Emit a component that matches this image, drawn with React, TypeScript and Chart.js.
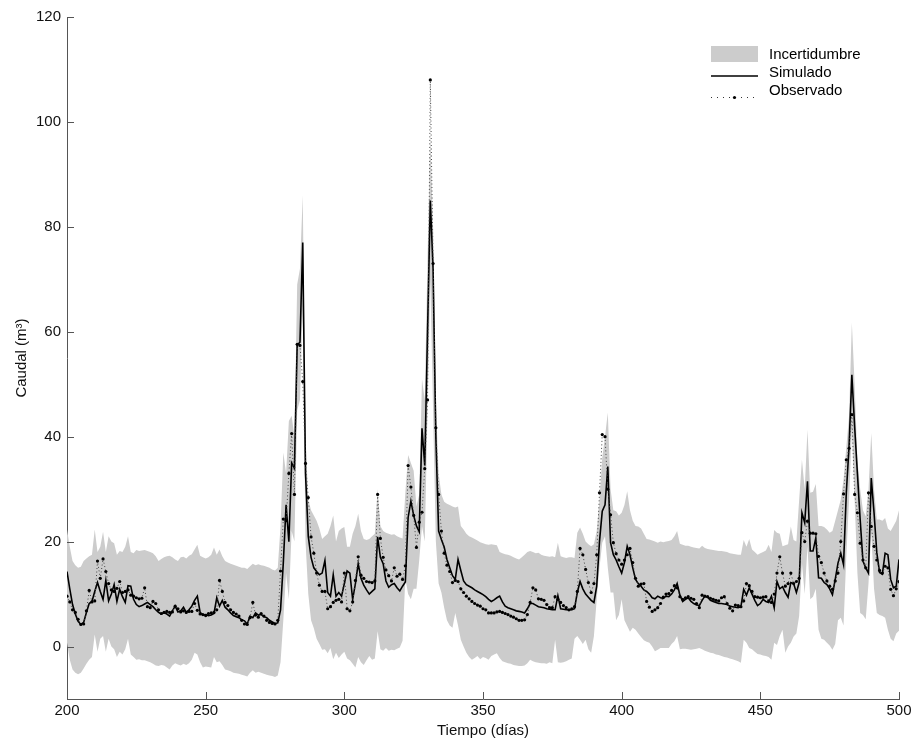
import { useEffect, useRef } from "react";
import { Chart, registerables } from "chart.js";

Chart.register(...registerables);

const START_DAY = 200;
const X_TICKS = [200, 250, 300, 350, 400, 450, 500];
const Y_TICKS = [0, 20, 40, 60, 80, 100, 120];

const simulado = [
  14.3, 11, 8, 6.2, 4.8, 4.2, 4.6, 6.5, 8.2, 8.6,
  10.5, 12.2, 10.5, 9, 12.6, 8.7, 10, 11.8, 8.6, 10.9,
  9.5, 8.4, 11.6, 11.5, 9, 8, 7.6, 7.8, 8.1, 8.4,
  8, 7.6, 7, 6.5, 6.2, 6.5, 6.2, 5.8, 6.8, 7.7,
  6.6, 6.8, 7.5, 6.5, 7, 7.7, 8.8, 9.6, 6.5, 6,
  6.1, 5.9, 6, 6.3, 9.3, 7.7, 8.8, 7.5, 7, 6.4,
  5.9, 5.7, 5.5, 5.1, 4.9, 4.3, 5.8, 5.5, 6.4, 6,
  6.1, 5.7, 5.5, 5, 4.7, 4.4, 4.5, 7, 16, 27,
  20, 35, 34, 57.5, 58, 77, 33, 21, 17, 15,
  14.3, 13.7, 14, 16.4, 10.3, 9.6, 13.7, 9.6, 10.3, 9.6,
  12, 14.4, 14, 9, 12, 15.8, 13, 11.7, 10.8, 10,
  10.5, 11, 20.9, 17, 15.8, 12.5, 11.3, 11.8, 12, 11.2,
  10.6, 11.5, 12.3, 24.6, 27.7, 25, 23, 21.9, 41.6, 34.5,
  60, 85, 72, 40, 22, 20.4, 19, 16.6, 15, 13.5,
  12.8, 16.6, 14.5, 12.5, 11.8, 11.5, 11.2, 10.8, 10.5, 10.2,
  9.9, 9.5, 9, 8.6, 8.9, 9.3, 9.6, 8.5, 7.7, 7.4,
  7.2, 7, 6.8, 6.7, 6.6, 6.4, 7.2, 8.2, 8.2, 7.9,
  7.6, 7.5, 7.4, 7.2, 7.1, 7, 7, 9.7, 7.2, 7.1,
  7, 7, 7, 7.2, 10.3, 12.4, 11, 10, 9.4, 8.8,
  8.4, 11.5, 20, 25.8, 27, 34.3, 19.8, 17.5, 16.5, 15.2,
  14, 16, 19.1, 17.5, 15, 12.8, 12, 11.5, 10.8, 10.5,
  10, 9.3, 9.1, 9.6, 9.3, 9.2, 9.6, 9.5, 10, 10.8,
  12, 9.8, 8.6, 9, 9.3, 8.6, 8.2, 7.9, 7.8, 8.8,
  9.6, 9.4, 8.8, 8.6, 8.4, 8.2, 8.2, 8.1, 8, 7.7,
  7.6, 7.5, 7.4, 7.6, 10.9, 9.8, 11.2, 10, 8.8, 7.8,
  8.2, 9, 8.6, 8.4, 9.6, 7.4, 12.4, 11, 11.4, 10.3,
  9.4, 12.2, 12, 10.3, 12.2, 25.5, 23.6, 31.5, 18.2, 18.2,
  20.7, 13.1, 13, 12.2, 11.8, 11, 9.9, 12.8, 15.9, 17.8,
  15.6, 29.3, 38.2, 51.8, 42, 33, 24.2, 16.3, 15, 14,
  32.1, 25.5, 17.9, 14.1, 13.8, 17.8, 17.5, 12.8, 11.2, 11.5,
  16.6,
];

const observado = [
  9.6, 8.5, 7, 6.5, 5.2, 4.2, 4.3, 6.8, 10.7, 8.5,
  8.7, 16.3, 13, 16.7, 14.3, 12, 10.8, 10.5, 11.1, 12.4,
  10.3, 10.5, 10.8, 9.8, 9.6, 9.3, 9.1, 9.2, 11.2, 7.6,
  7.4, 8.6, 8.2, 7, 6.3, 6.5, 6.7, 6.5, 6.6, 7.7,
  7.2, 6.6, 6.8, 6.5, 6.7, 6.7, 8.2, 6.9, 6.2, 6.1,
  5.9, 6.3, 6.4, 6.5, 7, 12.6, 10.5, 8.4, 7.8, 7,
  6.5, 6.2, 5.8, 5, 4.3, 4.2, 5.5, 8.4, 6, 5.6,
  6.3, 5.8, 5, 4.6, 4.4, 4.3, 5, 14.4, 24.3, 24,
  33, 40.6, 29, 57.6, 57.4, 50.5, 34.9, 28.4, 20.9, 17.8,
  14, 11.7, 10.5, 10.5, 7.2, 7.6, 8.4, 8.8, 9, 8.5,
  14, 7.2, 6.8, 8.5, 12.6, 17.1, 13.6, 13, 12.4, 12.3,
  12.2, 12.5, 29, 20.6, 17, 14.6, 13.5, 12.5, 15, 13.4,
  13.8, 12.8, 15.4, 34.5, 30.4, 25, 18.9, 23.7, 25.6, 33.9,
  47, 108, 73, 41.7, 29, 22, 17.8, 15.5, 14.3, 12.2,
  12.6, 12.4, 11, 10.3, 9.6, 9.1, 8.6, 8.2, 7.9, 7.7,
  7.2, 7, 6.4, 6.4, 6.4, 6.6, 6.7, 6.5, 6.3, 6.1,
  5.8, 5.6, 5.3, 5, 5, 5.1, 6.1, 8.4, 11.2, 10.8,
  9.1, 9, 8.8, 8, 7.4, 7.4, 9.5, 9, 8.4, 7.8,
  7.4, 7, 7.2, 7.6, 10.5, 18.7, 17.5, 14.7, 12.2, 10.3,
  12, 17.5, 29.3, 40.4, 40, 30, 25.1, 19.8, 17.7, 16.5,
  15.7, 16.5, 17.5, 18.7, 16, 13, 11.5, 11.9, 12, 8.6,
  7.5, 6.7, 7, 7.4, 8.2, 9.4, 10, 10.1, 10.7, 11.6,
  11.2, 9.5, 9, 9.3, 9.5, 9.2, 9, 8.2, 7.4, 9.8,
  9.6, 9.5, 9.2, 9, 8.8, 8.7, 9.3, 9.5, 8.2, 7.3,
  6.8, 7.9, 7.8, 7.6, 8.7, 12, 11.6, 10.5, 9.5, 9.4,
  9.3, 9.4, 9.5, 8.7, 8.4, 10, 14, 17.1, 14, 11.5,
  12, 14, 12, 12.4, 13, 21.7, 20, 23.9, 21.6, 21.6,
  21.5, 17.2, 16, 14, 12.5, 11.5, 10.9, 12.5, 14, 20,
  29.1, 35.6, 37.8, 44.2, 29, 25.5, 19.7, 16.5, 15, 29.3,
  22.9, 19.1, 16.5, 14.5, 14, 15.3, 15, 10.9, 9.7, 11,
  12.4,
];

const bandaSuperior = [
  22.3, 19, 16.3, 15.5, 15, 15.2, 16.3, 16.8, 17.2, 17.5,
  22.3, 18, 19, 21.9, 18, 21, 20, 19.7, 17.5, 18.2,
  18, 19, 21, 18, 17.8, 18.4, 18.2, 18.3, 18.4, 18.2,
  18, 17.8, 17.2, 16.3, 16.7, 17, 17.2, 17.3, 17, 16.6,
  16.3, 17, 17.1, 16.8, 17.3, 17.6, 18.5, 19.4, 17.3, 17,
  16.8, 17, 17.5, 18.9, 17.5, 18.5, 17.2, 16.3, 16, 15.8,
  15.6, 15.4, 15.2, 15, 15, 14.8, 15.3, 15.8, 15.5, 15.7,
  15.5, 15.4, 15.2, 15, 14.7, 14.5, 15, 23, 37, 33,
  43, 44, 40, 69, 72, 86, 40, 28, 26, 25,
  24, 22.5, 20.5, 21, 21.5, 23, 25, 20, 22, 22.5,
  22.8, 19, 19, 21.5, 23, 25.3, 22, 20.5, 20.3, 20.5,
  21, 21.5, 30, 23, 22, 21.7, 21.5, 21.3, 21.4, 21,
  20.8, 20.6, 29.3, 36.5, 35, 33.5, 26.7, 29, 51, 47,
  74, 97, 80, 47, 33, 29, 27.6, 27.2, 27, 26.7,
  26.5, 26.7, 23, 22.3, 21.5, 21, 20.8, 20.5, 20.2, 19.9,
  19.7, 19.5, 19.4, 19.5, 19.4, 19.3, 18, 17.8, 17.6, 17.5,
  17.3, 17, 16.8, 16.6, 17, 17.5, 18, 18.2, 18, 17.8,
  17.9, 17.5, 17.3, 17.2, 17.1, 17.2, 17, 19.8, 17.2, 17,
  16.9, 17, 17, 16.9, 21.7, 22.7, 21.5, 20, 19.5, 19.1,
  19.5, 22, 28, 36, 40, 44.6, 30, 26, 25.8, 25,
  25.5, 27, 29.6, 26, 24, 23, 22.9, 22.5, 21.5, 20.5,
  20.4, 20.2, 20, 19.8, 20, 19.9, 20, 20.1, 20.3, 21,
  22, 19.6, 19.4, 19.2, 19.2, 19, 18.9, 18.8, 18.7, 19.2,
  18.8, 18.6, 18.5, 18.4, 18.3, 18.2, 18.2, 18.1, 18, 17.8,
  17.7, 17.6, 17.5, 17.5, 20.3, 19, 20.5, 18.5, 18, 17.5,
  17.8, 18, 18.3, 19.4, 18, 22.2, 21.7, 21.5, 19.1, 19.3,
  19.5, 22.9, 20.3, 20, 28, 35.6, 30, 41.3, 29.3, 29.5,
  31, 23, 23, 22.8, 22.3, 21.7, 22, 24, 26, 28,
  31.8, 38, 44, 61.7, 50, 35.6, 30, 26, 24.8, 30,
  40.7, 30, 24.2, 24.2, 24, 24.5, 22.5, 22, 23, 24,
  26,
];

const bandaInferior = [
  0.7, -2.5, -4.4, -5, -5.3, -5, -4.2, -3.3, -2.5, -2,
  2.3, -1, 1.5, 2, -1, 1.5, 0, -0.5, -2, -1,
  -1.5, -0.5, 1.5, -1.5, -2, -2.5, -2.4, -2.6, -2.6, -2.8,
  -3, -3.3, -3.6, -3.7, -3.5, -3.6, -4, -4.4, -3.6, -3.2,
  -3.4, -3.6, -3.3, -3.5, -3.2, -2.5, -1.2, -1.5, -3, -4,
  -3.8, -3.9, -4, -2, -3, -2.8, -3.5, -4.4, -4.5, -4.7,
  -5, -5.1, -5.2, -5.4, -5.5, -5.7, -5, -4.5, -5, -4.8,
  -5, -5.2, -5.4, -5.5, -5.6, -5.8, -5.5, -3, 5, 14,
  9, 22, 20, 45, 47, 65, 20, 10, 5, 3.5,
  1.5, 0.5, -0.6, -0.5, -1.3, -0.3, -2.4, -1.2, -2.2, -1.5,
  -1, -2.3, -2.6, -3.3, -4, -2, -3, -3.5, -2.6, -1.8,
  -2.5, -2.3, 2.9, -0.5, -0.8, -0.3, -0.8, -0.6, -0.7, -0.4,
  -0.2, 1.1, 13, 10, 9, 11, 11, 16.4, 23, 20,
  45, 70, 45, 20, 12, 10.3, 7.4, 5, 4, 3.6,
  6.4, 4, 1.3, 0, -1.2, -2, -2.5, -2.2, -1.8, -2.4,
  -2, -2.2, -2.5, -1.8, -1.5, -1.3, -2.2, -2.8, -3, -3.2,
  -3.3, -3.5, -3.6, -3.7, -3.7, -3.6, -3.2, -2.5, -2.8, -3,
  -3.1, -3.2, -3.2, -3.3, -3, -3.2, 1.3, -3, -3.1, -3,
  -2.8, -2.5, -2.3, 1.5, 2, 1.3, 0.5, 1.3, -0.5, -1.2,
  2, 9, 15, 19.8, 21, 15, 10.3, 10.3, 5, 6,
  9, 5, 3.9, 2.8, 3.6, 3.2, 2.5, 1.8, 1.2, 0.9,
  0.7, 0, -0.9, -0.6, -0.3, -0.3, -0.3, -0.3, 0.5, 1,
  2, -0.5, -0.4, -0.4, -0.5, -0.6, -0.5, -0.4, -0.3, -0.5,
  -0.8, -1, -1.2, -1.3, -1.5, -1.6, -1.8, -2, -2.1, -2.3,
  -2.4, -2.6, -2.8, -3.1, 1.3, 0.7, -0.3, -0.5, -1, -1.4,
  -1.5, -1.7, -1.8, -2, -2.5, 0.7, 0.3, 2, 3.2, -1.2,
  0, 0.7, 1.9, 2.5, 5.8, 15.9, 10, 19.1, 9, 9.5,
  11, 3.2, 1.5, 1.3, 0.7, 0.2, -0.6, 0.5, 5, 5.5,
  4, 17.2, 28, 41.3, 28, 14, 6.4, 6, 5.2, 12,
  21.7, 11, 6.4, 6, 5.8, 5.5, 3.2, 1.5, 1, 2.5,
  3,
];

const BAND_COLOR = "#cccccc";
const AXIS_COLOR = "#555555";
const FONT = '"Liberation Sans", Arial, Helvetica, sans-serif';
const FONT_SIZE = 15;

const toPoints = (arr: number[]) => arr.map((v, i) => ({ x: START_DAY + i, y: v }));

const innerTicksPlugin = {
  id: "innerTicks",
  afterDraw(chart: any) {
    const { ctx, chartArea, scales } = chart;
    ctx.save();
    ctx.strokeStyle = AXIS_COLOR;
    ctx.lineWidth = 1;
    ctx.beginPath();
    scales.y.ticks.forEach((t: any) => {
      const y = Math.round(scales.y.getPixelForValue(t.value)) + 0.5;
      ctx.moveTo(chartArea.left, y);
      ctx.lineTo(chartArea.left + 7, y);
    });
    scales.x.ticks.forEach((t: any) => {
      const x = Math.round(scales.x.getPixelForValue(t.value)) + 0.5;
      ctx.moveTo(x, chartArea.bottom);
      ctx.lineTo(x, chartArea.bottom - 7);
    });
    ctx.stroke();
    ctx.restore();
  },
};

const legendPlugin = {
  id: "customLegend",
  afterDraw(chart: any) {
    const { ctx, chartArea } = chart;
    const ds = chart.data.datasets;
    const x0 = chartArea.right - 188;
    const y0 = chartArea.top + 29;
    const sw = 47;
    const tx = x0 + 58;
    ctx.save();
    ctx.font = `${FONT_SIZE}px ${FONT}`;
    ctx.textBaseline = "middle";
    ctx.textAlign = "left";
    // band
    ctx.fillStyle = BAND_COLOR;
    ctx.fillRect(x0, y0, sw, 16);
    ctx.fillStyle = "#000";
    ctx.fillText(ds[0].label, tx, y0 + 8.5);
    // simulado
    ctx.strokeStyle = "#000";
    ctx.lineWidth = 1.5;
    ctx.beginPath();
    ctx.moveTo(x0, y0 + 30);
    ctx.lineTo(x0 + sw, y0 + 30);
    ctx.stroke();
    ctx.fillText(ds[2].label, tx, y0 + 27);
    // observado
    ctx.strokeStyle = "#333";
    ctx.lineWidth = 1;
    ctx.setLineDash([1, 5]);
    ctx.beginPath();
    ctx.moveTo(x0, y0 + 51.5);
    ctx.lineTo(x0 + sw, y0 + 51.5);
    ctx.stroke();
    ctx.setLineDash([]);
    ctx.fillStyle = "#000";
    ctx.beginPath();
    ctx.arc(x0 + sw / 2, y0 + 51.5, 1.6, 0, Math.PI * 2);
    ctx.fill();
    ctx.fillText(ds[3].label, tx, y0 + 45);
    ctx.restore();
  },
};

export default function App() {
  const canvasRef = useRef<HTMLCanvasElement | null>(null);

  useEffect(() => {
    document.body.style.margin = "0";
    const canvas = canvasRef.current;
    if (!canvas) return;
    const chart = new Chart(canvas, {
      type: "line",
      data: {
        datasets: [
          {
            label: "Incertidumbre",
            data: toPoints(bandaSuperior),
            borderWidth: 0,
            borderColor: BAND_COLOR,
            backgroundColor: BAND_COLOR,
            pointRadius: 0,
            fill: "+1",
            order: 3,
            tension: 0,
          },
          {
            label: "Incertidumbre inferior",
            data: toPoints(bandaInferior),
            borderWidth: 0,
            borderColor: BAND_COLOR,
            backgroundColor: BAND_COLOR,
            pointRadius: 0,
            fill: false,
            order: 4,
            tension: 0,
          },
          {
            label: "Simulado",
            data: toPoints(simulado),
            borderColor: "#000",
            borderWidth: 1.6,
            pointRadius: 0,
            fill: false,
            order: 1,
            tension: 0,
          },
          {
            label: "Observado",
            data: toPoints(observado),
            borderColor: "#444",
            borderWidth: 1,
            borderDash: [1, 2.5],
            pointRadius: 1.6,
            pointBackgroundColor: "#000",
            pointBorderWidth: 0,
            fill: false,
            order: 0,
            tension: 0,
          },
        ],
      },
      options: {
        responsive: false,
        animation: false,
        devicePixelRatio: 1,
        layout: { padding: { left: 0, right: 16, top: 17, bottom: 0 } },
        plugins: {
          legend: { display: false },
          tooltip: { enabled: false },
        },
        scales: {
          x: {
            type: "linear",
            min: 200,
            max: 500,
            afterBuildTicks: (scale: any) => {
              scale.ticks = X_TICKS.map((v) => ({ value: v }));
            },
            afterFit: (scale: any) => {
              scale.height = 41;
              scale.paddingLeft = 0;
              scale.paddingRight = 0;
            },
            grid: { display: false, drawTicks: false },
            border: { display: true, color: AXIS_COLOR, width: 1 },
            ticks: {
              padding: 3,
              maxRotation: 0,
              color: "#111",
              font: { family: FONT, size: FONT_SIZE },
              callback: (v: any) => String(v),
            },
            title: {
              display: true,
              text: "Tiempo (días)",
              color: "#111",
              font: { family: FONT, size: FONT_SIZE },
              padding: { top: 0, bottom: 0 },
            },
          },
          y: {
            type: "linear",
            min: -10,
            max: 120,
            afterBuildTicks: (scale: any) => {
              scale.ticks = Y_TICKS.map((v) => ({ value: v }));
            },
            afterFit: (scale: any) => {
              scale.width = 67;
              scale.paddingTop = 0;
              scale.paddingBottom = 0;
            },
            grid: { display: false, drawTicks: false },
            border: { display: true, color: AXIS_COLOR, width: 1 },
            ticks: {
              padding: 6,
              color: "#111",
              font: { family: FONT, size: FONT_SIZE },
              callback: (v: any) => String(v),
            },
            title: {
              display: true,
              text: "Caudal (m³)",
              color: "#111",
              font: { family: FONT, size: FONT_SIZE },
              padding: { top: 13, bottom: 0 },
            },
          },
        },
      },
      plugins: [innerTicksPlugin, legendPlugin],
    } as any);
    return () => chart.destroy();
  }, []);

  return (
    <div style={{ width: 915, height: 740 }}>
      <canvas ref={canvasRef} width={915} height={740} style={{ display: "block" }} />
    </div>
  );
}
